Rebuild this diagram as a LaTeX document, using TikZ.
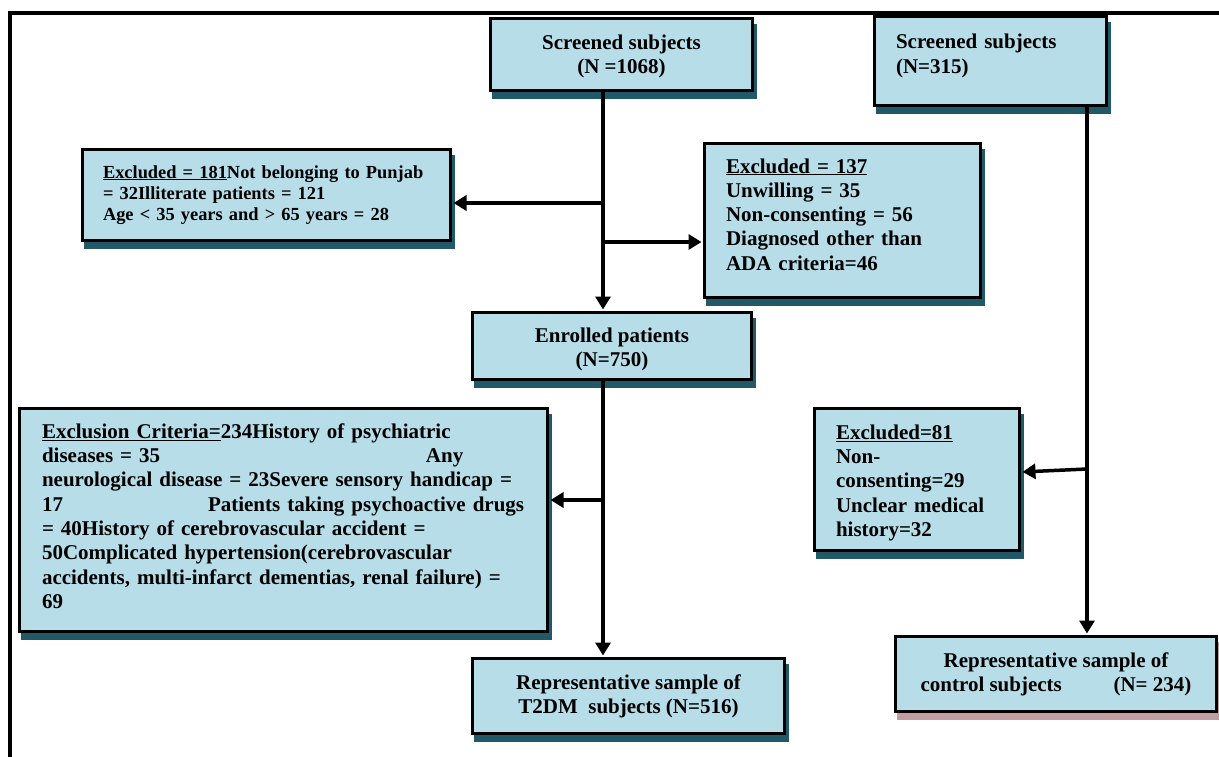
\documentclass[tikz,border=0pt]{standalone}
\usepackage{fontspec}
\setmainfont{Liberation Serif}
\usetikzlibrary{arrows.meta}
\definecolor{boxfill}{HTML}{B7DDE8}
\definecolor{shadowc}{HTML}{215968}
\definecolor{shadowr}{HTML}{C29EA1}
\begin{document}
\begin{tikzpicture}[x=1pt,y=1pt,
  box/.style={draw=black, line width=3pt, fill=boxfill, inner sep=0pt,
    font=\fontsize{21pt}{24.3pt}\selectfont\bfseries,
    preaction={draw=#1, fill=#1, line width=3pt, transform canvas={shift={(3pt,-7pt)}}}},
  box/.default=shadowc,
  leftbox/.style={align=left},
  conn/.style={line width=3.5pt, -{Triangle[length=13pt,width=15pt]}, shorten >=1.5pt},
]
\useasboundingbox (0,0) rectangle (1219,-756);
\clip (0,0) rectangle (1219,-756);
\draw[line width=3.8pt] (10,-13.2) rectangle (1280,-800);

\node[box, minimum width=262pt, minimum height=72pt, align=center] (s1) at (621.5,-54.5)
  {\rule{0pt}{19pt}Screened subjects\\(N =1068)};

\node[box, minimum width=368pt, minimum height=91pt, text width=327pt, leftbox,
  font=\fontsize{18.4pt}{21.3pt}\selectfont\bfseries] (e181) at (266.5,-195)
  {\mbox{\underline{Excluded = 181}Not belonging to Punjab}\\\mbox{= 32Illiterate patients = 121}\\\mbox{Age < 35 years and > 65 years = 28}};

\node[box, minimum width=276pt, minimum height=154pt, text width=233pt, leftbox] (e137) at (842.5,-220.5)
  {\mbox{\underline{Excluded = 137}}\\\mbox{Unwilling = 35}\\\mbox{Non-consenting = 56}\\\mbox{Diagnosed other than}\\\mbox{ADA criteria=46}\\[-12pt]\mbox{}};

\node[box, minimum width=232pt, minimum height=89pt, text width=189pt, leftbox] (s2) at (990.5,-61)
  {\mbox{Screened subjects}\\\mbox{(N=315)}\\[-10pt]\mbox{}};

\node[box, minimum width=279pt, minimum height=67pt, align=center] (enr) at (612,-346)
  {\rule{0pt}{21pt}Enrolled patients\\(N=750)};

\node[box, minimum width=528pt, minimum height=223pt, text width=483pt, leftbox] (exc) at (283.5,-520)
  {\mbox{\underline{Exclusion Criteria=}234History of psychiatric}\\\mbox{\makebox[384pt][l]{diseases = 35}Any}\\\mbox{neurological disease = 23Severe sensory handicap =}\\\mbox{\makebox[166pt][l]{17}Patients taking psychoactive drugs}\\\mbox{= 40History of cerebrovascular accident =}\\\mbox{50Complicated hypertension(cerebrovascular}\\\mbox{accidents, multi-infarct dementias, renal failure) =}\\\mbox{69}\\[-16pt]\mbox{}};

\node[box, minimum width=205pt, minimum height=142pt, text width=162pt, leftbox] (e81) at (917,-479.5)
  {\mbox{\rule{0pt}{21pt}\underline{Excluded=81}}\\\mbox{Non-}\\\mbox{consenting=29}\\\mbox{Unclear medical}\\\mbox{history=32}};

\node[box, minimum width=312pt, minimum height=75pt, align=center] (rep1) at (628.5,-696)
  {Representative sample of\\T2DM\ \ subjects (N=516)};

\node[box=shadowr, minimum width=321pt, minimum height=75pt, align=center] (rep2) at (1056,-674)
  {Representative sample of\\\makebox[193pt][l]{control subjects}(N= 234)};

\coordinate (tA) at (603,0);
\coordinate (tB) at (1087,0);
\coordinate (j1) at (603,-203);
\coordinate (j2) at (603,-242);
\coordinate (j3) at (603,-500);
\coordinate (j4) at (1087,-469);

\draw[conn] (s1.south -| tA) -- (enr.north -| tA);
\draw[conn] (j1) -- (j1 -| e181.east);
\draw[conn] (j2) -- (j2 -| e137.west);
\draw[conn] (enr.south -| tA) -- (rep1.north -| tA);
\draw[conn] (j3) -- (j3 -| exc.east);
\draw[conn] (s2.south -| tB) -- (rep2.north -| tB);
\draw[conn] (j4) -- ([yshift=7.5pt]e81.east);
\end{tikzpicture}
\end{document}
